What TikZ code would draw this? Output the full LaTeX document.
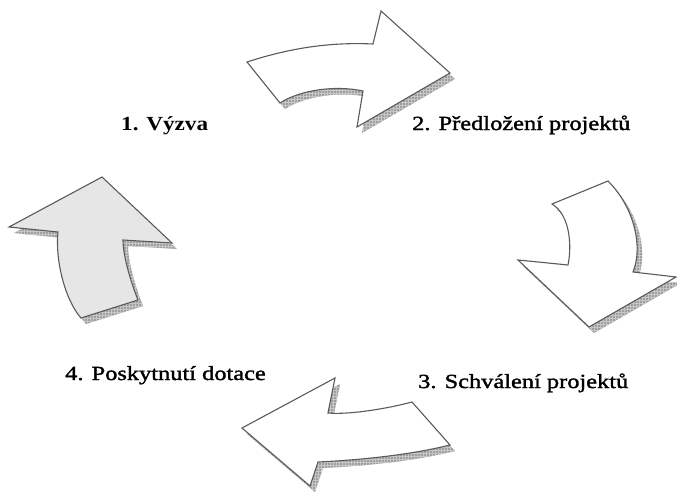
\documentclass[tikz,border=0pt]{standalone}
\usepackage{fontspec}
\newfontfamily\lblfont[FakeStretch=1.22,FakeBold=1.6]{Liberation Serif}
\newfontfamily\lblbfont[FakeStretch=1.16]{Liberation Serif Bold}
\usetikzlibrary{patterns}
\definecolor{edge}{HTML}{5A5A5A}
\definecolor{lightfill}{HTML}{E6E6E6}
\begin{document}
\begin{tikzpicture}[x=1pt,y=-1pt,
  arrowline/.style={draw=edge,line width=1.1pt,line join=miter},
  shade box/.style={fill=black!38,postaction={pattern=grid,pattern color=black!22},shift={(5,6)}},
  lbl/.style={anchor=base west,inner sep=0pt,font=\lblfont\fontsize{20}{24}\selectfont},
  toparrow/.style={insert path={(247,62) .. controls (290,48) and (330,42) .. (373,44)
     -- (381,11) -- (450,73) -- (357,127) -- (363,91)
     .. controls (335,85) and (300,90) .. (280,103) -- cycle}},
  rightarrow/.style={insert path={(552,204) -- (608,181)
     .. controls (635,208) and (643,248) .. (633,272)
     -- (676,277) -- (589,327) -- (518,260) -- (568,265)
     .. controls (572,245) and (570,215) .. (552,204) -- cycle}},
  leftarrow/.style={insert path={(102,177) -- (9,227) -- (58,232)
     .. controls (55,260) and (65,300) .. (81,318)
     -- (138,300) .. controls (130,280) and (123,255) .. (123,240)
     -- (172,243) -- cycle}},
  bottomarrow/.style={insert path={(335,378) -- (242,428) -- (310,486) -- (318,462)
     .. controls (360,460) and (410,455) .. (450,445)
     -- (412,402) .. controls (390,408) and (350,415) .. (328,413) -- cycle}}
]
\useasboundingbox (0,0) rectangle (677,495);
% shadows
\path[shade box,toparrow];
\path[shade box,rightarrow];
\path[shade box,leftarrow];
\path[shade box,bottomarrow];
% arrows
\path[arrowline,fill=white,toparrow];
\path[arrowline,fill=white,rightarrow];
\path[arrowline,fill=lightfill,leftarrow];
\path[arrowline,fill=white,bottomarrow];
% labels
\node[lbl,font=\lblbfont\fontsize{20}{24}\selectfont] (l1) at (121,130.5) {1. Výzva};
\node[lbl] (l2) at (412,130) {2. Předložení projektů};
\node[lbl] (l3) at (418,388) {3. Schválení projektů};
\node[lbl] (l4) at (65,380) {4. Poskytnutí dotace};
\end{tikzpicture}
\end{document}
